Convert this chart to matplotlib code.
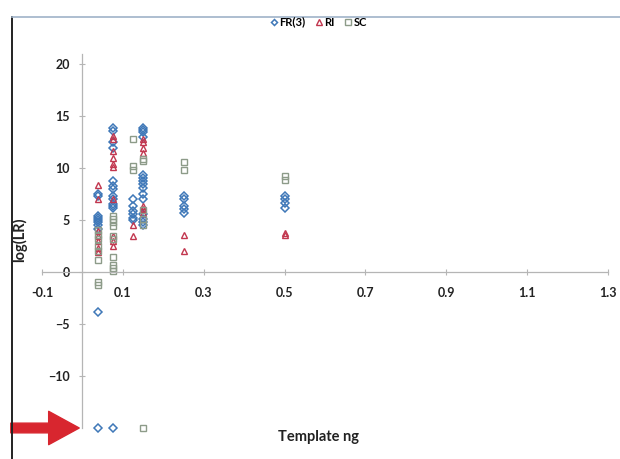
import matplotlib.pyplot as plt
import matplotlib.patches as patches

# log(LR) readings per template amount (ng); -15 marks the LR = 0 cases at the floor
fr_x = [0.0375] * 10 + [0.075] * 13 + [0.125] * 6 + [0.15] * 15 + [0.25] * 5 + [0.5] * 4
fr_y = [7.5, 7.3, 5.4, 5.2, 5.0, 4.8, 4.5, 4.2, -3.8, -15,
        13.9, 13.6, 12.5, 12.0, 8.8, 8.3, 8.0, 7.3, 7.0, 6.6, 6.4, 6.2, -15,
        7.0, 6.4, 5.9, 5.6, 5.2, 5.0,
        13.9, 13.7, 13.5, 13.0, 9.4, 9.1, 8.8, 8.5, 8.1, 7.5, 7.0, 5.6, 5.1, 4.8, 4.5,
        7.3, 7.0, 6.4, 6.1, 5.7,
        7.3, 7.0, 6.7, 6.2]

ri_x = [0.0375] * 7 + [0.075] * 10 + [0.125] * 2 + [0.15] * 7 + [0.25] * 2 + [0.5] * 2
ri_y = [8.4, 7.0, 4.0, 3.5, 3.0, 2.3, 1.9,
        13.1, 12.8, 11.7, 11.0, 10.4, 10.1, 7.0, 3.5, 3.0, 2.5,
        4.5, 3.5,
        12.8, 12.5, 12.0, 11.5, 6.4, 6.1, 5.7,
        3.6, 2.0,
        3.8, 3.6]

sc_x = [0.0375] * 8 + [0.075] * 10 + [0.125] * 3 + [0.15] * 6 + [0.25] * 2 + [0.5] * 2
sc_y = [4.1, 3.6, 3.2, 2.5, 2.0, 1.2, -0.9, -1.2,
        5.4, 5.1, 4.8, 4.4, 3.5, 3.2, 1.5, 0.7, 0.4, 0.1,
        12.8, 10.2, 9.8,
        10.9, 10.7, 6.0, 5.1, 4.5, -15,
        10.6, 9.8,
        9.3, 8.9]

x_ticks = [-0.1, 0.1, 0.3, 0.5, 0.7, 0.9, 1.1, 1.3]
y_ticks = [-10, -5, 0, 5, 10, 15, 20]

plt.rcParams['font.family'] = ['Lato', 'DejaVu Sans']

fig = plt.figure(figsize=(6.2, 4.59), dpi=100)
ax = fig.add_axes([42 / 620, 1 - 428 / 459, 566 / 620, (428 - 54) / 459])

ax.plot(fr_x, fr_y, 'D', ms=3.6, mfc='none', mec='#3f78b8', mew=1.1, clip_on=False, label='FR(3)')
ax.plot(ri_x, ri_y, '^', ms=5, mfc='none', mec='#c2374f', mew=1.0, clip_on=False, label='RI')
ax.plot(sc_x, sc_y, 's', ms=4.6, mfc='none', mec='#8d9b89', mew=1.0, clip_on=False, label='SC')

ax.set_xlim(-0.1, 1.3)
ax.set_ylim(-15, 21)
ax.set_xticks(x_ticks)
ax.set_xticklabels([f'{v:g}' for v in x_ticks])
ax.set_yticks(y_ticks)

for s in ['top', 'right']:
    ax.spines[s].set_visible(False)
ax.spines['left'].set_position(('data', 0))
ax.spines['bottom'].set_position(('data', 0))
for s in ['left', 'bottom']:
    ax.spines[s].set_color('#b5b5b5')
    ax.spines[s].set_linewidth(0.9)
ax.tick_params(direction='inout', length=4, width=0.8, color='#b5b5b5',
               labelsize=9, labelcolor='#222222')
ax.tick_params(axis='x', pad=9)
ax.tick_params(axis='y', pad=7)
for t in ax.get_xticklabels() + ax.get_yticklabels():
    t.set_fontweight('bold')

fig.text(20 / 620, 1 - 240 / 459, 'log(LR)', rotation=90, ha='center', va='center',
         fontsize=10.5, fontweight='bold', color='#222222')
fig.text(318 / 620, 1 - 437 / 459, 'Template ng', ha='center', va='center',
         fontsize=10.5, fontweight='bold', color='#222222')

leg = fig.legend(loc='center', bbox_to_anchor=(318 / 620, 1 - 22 / 459), ncol=3, frameon=False,
                 fontsize=8, handletextpad=0.1, columnspacing=0.8, handlelength=0.8,
                 markerscale=0.85)
for t in leg.get_texts():
    t.set_fontweight('bold')

# chart area border (left and top edges visible in the scan)
fig.add_artist(plt.Line2D([12 / 620, 12 / 620], [0, 1 - 17 / 459], color='#222222', lw=1.4))
fig.add_artist(plt.Line2D([12 / 620, 1], [1 - 17 / 459, 1 - 17 / 459], color='#9fb3c8', lw=1.2))

# red pointer to the floor values
arrow = patches.FancyArrowPatch((8 / 620, 1 - 428 / 459), (82 / 620, 1 - 428 / 459),
                                transform=fig.transFigure,
                                arrowstyle='simple,head_width=24,head_length=22,tail_width=7',
                                color='#d8262f', mutation_scale=1)
fig.add_artist(arrow)

fig.savefig('out.png', dpi=100)
